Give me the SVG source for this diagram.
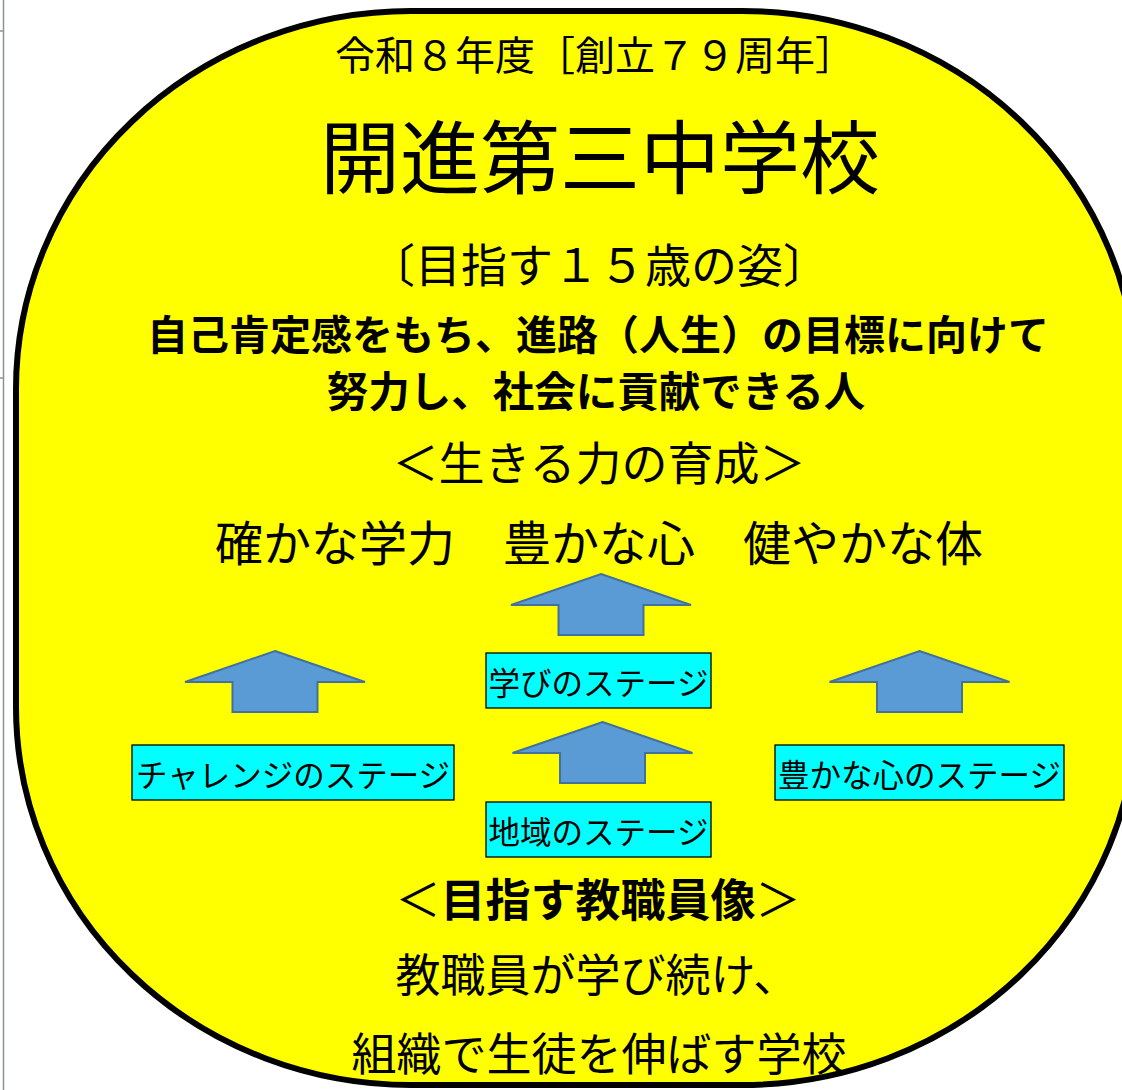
<svg xmlns="http://www.w3.org/2000/svg" xmlns:xlink="http://www.w3.org/1999/xlink" width="1122" height="1090" viewBox="0 0 1122 1090">
<style>
.t{font-family:"Noto Sans CJK JP","Noto Sans",sans-serif;fill:#000;text-anchor:middle;dominant-baseline:central;font-weight:400}
.b{font-weight:700}
.box{fill:#00FFFF;stroke:#000;stroke-width:1.3}
.arrow{fill:#5B9BD5;stroke:#41719C;stroke-width:2}
</style>
<defs>
<path id="up" d="M0,0 L90,31 L42.5,31 L42.5,61 L-42.5,61 L-42.5,31 L-90,31 Z"/>
</defs>
<rect width="1122" height="1090" fill="#fff"/>
<g id="page-edge" stroke="#8a929c" stroke-width="1.5">
<line x1="3.5" y1="0" x2="3.5" y2="1090"/>
<line x1="0" y1="31" x2="4" y2="31"/>
<line x1="0" y1="378" x2="4" y2="378"/>
</g>
<g id="frame">
<rect x="16" y="11" width="1121" height="1074" rx="395" ry="378" fill="#FFFF00" stroke="#000" stroke-width="6"/>
</g>
<g id="title">
<text class="t" x="595" y="53" font-size="40">令和８年度［創立７９周年］</text>
<text class="t" x="600" y="152" font-size="80">開進第三中学校</text>
</g>
<g id="goal">
<text class="t" x="599" y="262" font-size="46">〔目指す１５歳の姿〕</text>
<text class="t b" x="598" y="332" font-size="41">自己肯定感をもち、進路（人生）の目標に向けて</text>
<text class="t b" x="596" y="389" font-size="41.5">努力し、社会に貢献できる人</text>
</g>
<g id="ikiru">
<text class="t" x="599" y="460" font-size="46">＜生きる力の育成＞</text>
<text class="t" x="599" y="540" font-size="48">確かな学力　豊かな心　健やかな体</text>
</g>
<g id="connectors">
<use xlink:href="#up" class="arrow" transform="translate(601,574)"/>
<use xlink:href="#up" class="arrow" transform="translate(275,651)"/>
<use xlink:href="#up" class="arrow" transform="translate(919.5,651)"/>
<use xlink:href="#up" class="arrow" transform="translate(602.5,722)"/>
</g>
<g id="stage-manabi">
<rect class="box" x="486" y="653" width="225" height="55"/>
<text class="t" x="598.5" y="680.5" font-size="31.5">学びのステージ</text>
</g>
<g id="stage-challenge">
<rect class="box" x="132" y="745" width="322" height="55"/>
<text class="t" x="293" y="772.5" font-size="31.5">チャレンジのステージ</text>
</g>
<g id="stage-kokoro">
<rect class="box" x="775" y="745" width="289" height="55"/>
<text class="t" x="919.5" y="772.5" font-size="31.5">豊かな心のステージ</text>
</g>
<g id="stage-chiiki">
<rect class="box" x="486" y="802" width="225" height="55"/>
<text class="t" x="598.5" y="829.5" font-size="31.5">地域のステージ</text>
</g>
<g id="staff">
<text class="t" x="598" y="897" font-size="45">＜<tspan class="b">目指す教職員像</tspan>＞</text>
<text class="t" x="597" y="972" font-size="45">教職員が学び続け、</text>
<text class="t" x="599" y="1051" font-size="45">組織で生徒を伸ばす学校</text>
</g>
</svg>
